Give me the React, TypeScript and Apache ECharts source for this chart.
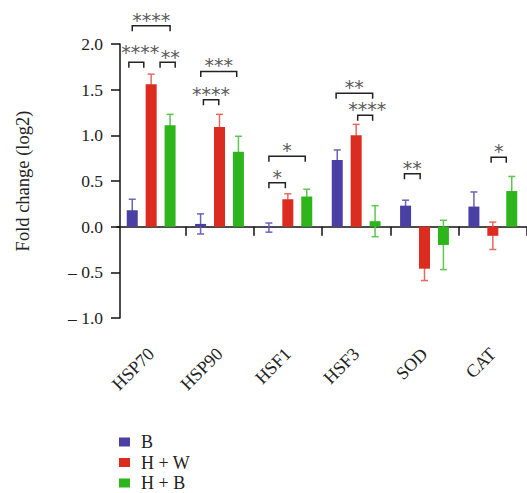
import React, { useEffect, useRef } from "react";
import * as echarts from "echarts";

const categories = ["HSP70", "HSP90", "HSF1", "HSF3", "SOD", "CAT"];
const seriesNames = ["B", "H + W", "H + B"];
const valuesB = [0.18, 0.03, -0.01, 0.73, 0.23, 0.22];
const errB = [0.12, 0.11, 0.05, 0.11, 0.06, 0.16];
const valuesHW = [1.56, 1.09, 0.3, 1.0, -0.46, -0.1];
const errHW = [0.11, 0.14, 0.06, 0.12, 0.13, 0.15];
const valuesHB = [1.11, 0.82, 0.33, 0.06, -0.2, 0.39];
const errHB = [0.12, 0.17, 0.08, 0.17, 0.27, 0.16];

const yTicks = [-1, -0.5, 0, 0.5, 1, 1.5, 2];

// significance brackets: category, from / to (in bar steps from the group centre), height, label
const bracketCat = [0, 0, 0, 1, 1, 2, 2, 3, 3, 4, 5];
const bracketFrom = [-1.18, 0.47, -1.0, -0.85, -0.99, -1.0, -1.0, -1.06, 0.08, -1.06, -0.09];
const bracketTo = [-0.39, 1.27, 1.0, -0.04, 0.91, -0.13, 0.92, 0.87, 0.87, -0.23, 0.71];
const bracketLevel = [1.8, 1.8, 2.2, 1.39, 1.7, 0.48, 0.77, 1.46, 1.22, 0.58, 0.76];
const bracketLabel = ["****", "**", "****", "****", "***", "*", "*", "**", "****", "**", "*"];
const bracketLift = [4.5, -1, 0, 0, 0, 0, 0, 0, 0, 0, 0];
const bracketTextDx = [4, 2.5, 0, 0, 0, 0, 0, 0, 2, 0, 0];

const colors = ["#4a3fa3", "#dc2c1f", "#2eb51c"];
const errColors = ["#6b62bb", "#e86a5e", "#5cc84c"];
const SERIF = "'Liberation Serif', 'Times New Roman', serif";
const BAR_W = 11;
const BAR_GAP = 0.72;
const STEP = BAR_W * (1 + BAR_GAP);

export default function App() {
  const ref = useRef<HTMLDivElement>(null);
  useEffect(() => {
    if (!ref.current) return;
    document.body.style.margin = "0";
    const chart = echarts.init(ref.current, undefined, { renderer: "svg" });
    const vals = [valuesB, valuesHW, valuesHB];
    const errs = [errB, errHW, errHB];
    const errData: number[][] = [];
    vals.forEach((arr, s) => arr.forEach((v, c) => errData.push([c, s, v, errs[s][c]])));
    const brData = bracketCat.map((c, i) => [c, bracketFrom[i], bracketTo[i], bracketLevel[i], i]);

    chart.setOption({
      animation: false,
      grid: { left: 117, top: 44, width: 419, height: 274 },
      legend: seriesNames.map((n, i) => ({
        data: [n],
        orient: "vertical",
        left: 119,
        top: 433 + i * 20.5,
        padding: 0,
        itemWidth: 11,
        itemHeight: 9,
        icon: "rect",
        textStyle: { fontFamily: SERIF, fontSize: 18, lineHeight: 18, color: "#222", padding: [0, 0, 0, 6] },
      })),
      xAxis: [
        {
          type: "category",
          data: categories,
          position: "bottom",
          axisLine: { onZero: true, lineStyle: { color: "#111", width: 1.5 } },
          axisTick: { show: true, length: 9, interval: (i: number) => i > 0, lineStyle: { color: "#111", width: 1.5 } },
          axisLabel: { show: false },
        },
        {
          type: "category",
          data: categories,
          position: "bottom",
          axisLine: { show: false, onZero: false },
          axisTick: { show: false },
          axisLabel: { rotate: 45, margin: 33, interval: 0, fontFamily: SERIF, fontSize: 18, color: "#222" },
        },
      ],
      yAxis: {
        type: "value",
        min: -1,
        max: 2,
        interval: 0.5,
        offset: -3,
        name: "Fold change (log2)",
        nameLocation: "middle",
        nameGap: 88,
        nameTextStyle: { fontFamily: SERIF, fontSize: 18.5, color: "#222" },
        splitLine: { show: false },
        axisLine: { show: true, lineStyle: { color: "#111", width: 1.5 } },
        axisTick: { show: true, length: 9, lineStyle: { color: "#111", width: 1.5 } },
        axisLabel: {
          margin: 17,
          fontFamily: SERIF,
          fontSize: 17.5,
          color: "#222",
          formatter: (v: number) => {
            const t = yTicks.find((x) => Math.abs(x - v) < 1e-9);
            const n = t === undefined ? v : t;
            return n < 0 ? "\u2013 " + Math.abs(n).toFixed(1) : n.toFixed(1);
          },
        },
      },
      series: [
        ...vals.map((arr, s) => ({
          type: "bar",
          name: seriesNames[s],
          data: arr,
          barWidth: BAR_W,
          barGap: BAR_GAP * 100 + "%",
          itemStyle: { color: colors[s] },
          z: 3,
        })),
        {
          type: "custom",
          z: 2,
          data: errData,
          encode: { x: 0, y: 2 },
          renderItem: (params: any, api: any) => {
            const c = api.value(0);
            const s = api.value(1);
            const v = api.value(2);
            const e = api.value(3);
            const top = api.coord([c, v + e]);
            const bot = api.coord([c, v - e]);
            const x = top[0] + (s - 1) * STEP;
            const hw = 3.5;
            const st = { stroke: errColors[s], lineWidth: 1.5, fill: "none" };
            return {
              type: "group",
              children: [
                { type: "line", shape: { x1: x, y1: top[1], x2: x, y2: bot[1] }, style: st },
                { type: "line", shape: { x1: x - hw, y1: top[1], x2: x + hw, y2: top[1] }, style: st },
                { type: "line", shape: { x1: x - hw, y1: bot[1], x2: x + hw, y2: bot[1] }, style: st },
              ],
            };
          },
        },
        {
          type: "custom",
          z: 4,
          data: brData,
          encode: { x: 0, y: 3 },
          renderItem: (params: any, api: any) => {
            const c = api.value(0);
            const p = api.coord([c, api.value(3)]);
            const x1 = p[0] + api.value(1) * STEP;
            const x2 = p[0] + api.value(2) * STEP;
            const y = p[1];
            const leg = 5.5;
            const idx = api.value(4);
            return {
              type: "group",
              children: [
                {
                  type: "polyline",
                  shape: { points: [[x1, y + leg], [x1, y], [x2, y], [x2, y + leg]] },
                  style: { stroke: "#222", lineWidth: 1.5, fill: "none" },
                },
                {
                  type: "text",
                  x: (x1 + x2) / 2 + bracketTextDx[idx],
                  y: y - 6 - bracketLift[idx],
                  style: {
                    text: bracketLabel[idx],
                    fontFamily: "'DejaVu Sans', sans-serif",
                    fontSize: 19,
                    fill: "#5a5a5a",
                    align: "center",
                    verticalAlign: "middle",
                  },
                },
              ],
            };
          },
        },
      ],
    });
    return () => chart.dispose();
  }, []);
  return <div ref={ref} style={{ width: 527, height: 493 }} />;
}
